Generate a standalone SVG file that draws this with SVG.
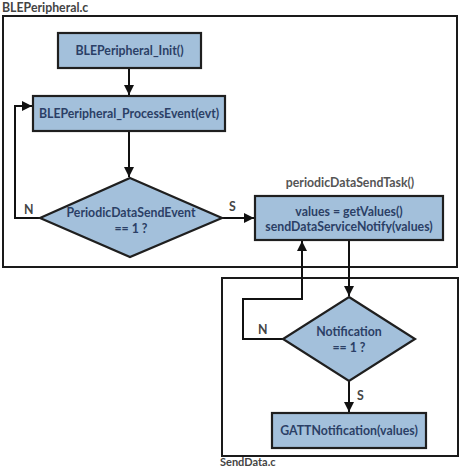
<svg xmlns="http://www.w3.org/2000/svg" width="463" height="467" viewBox="0 0 463 467">
<style>
.frame{fill:none;stroke:#1a1a1a;stroke-width:2}
.node{fill:#a3c0db;stroke:#1f1f1f;stroke-width:2.2}
.t{font-family:Lato,"Open Sans",sans-serif;font-weight:bold;font-size:12.3px;fill:#2b3f66;text-anchor:middle}
.lbl{font-family:Lato,"Open Sans",sans-serif;font-weight:bold;font-size:12.3px;fill:#444}
.c{fill:none;stroke:#111;stroke-width:2}
</style>
<defs>
<marker id="ah" viewBox="0 0 10 10" refX="10" refY="5" markerWidth="5" markerHeight="5" orient="auto" markerUnits="strokeWidth">
<path d="M0,0 L10,5 L0,10 z" fill="#111"/>
</marker>
</defs>
<rect width="463" height="467" fill="#ffffff"/>
<g id="frame-ble">
<rect class="frame" x="3" y="16" width="454" height="251"/>
<text class="lbl" x="2" y="12">BLEPeripheral.c</text>
</g>
<g id="frame-senddata">
<rect class="frame" x="222" y="278" width="236" height="178"/>
<text class="lbl" x="220" y="466" style="font-size:11px">SendData.c</text>
</g>
<g id="connectors">
<line class="c" x1="129" y1="68" x2="129" y2="95" marker-end="url(#ah)"/>
<line class="c" x1="129" y1="131" x2="129" y2="177" marker-end="url(#ah)"/>
<polyline class="c" points="40,218 15,218 15,106 32,106" marker-end="url(#ah)"/>
<line class="c" x1="222" y1="218" x2="254" y2="218" marker-end="url(#ah)"/>
<line class="c" x1="349" y1="240" x2="349" y2="296" marker-end="url(#ah)"/>
<polyline class="c" points="283,339 243,339 243,299 302,299 302,241" marker-end="url(#ah)"/>
<line class="c" x1="349" y1="381" x2="349" y2="412" marker-end="url(#ah)"/>
<text class="lbl" x="24" y="214">N</text>
<text class="lbl" x="229" y="211">S</text>
<text class="lbl" x="258" y="334">N</text>
<text class="lbl" x="357" y="400">S</text>
</g>
<g id="init">
<rect class="node" x="58" y="33" width="143" height="35"/>
<text class="t" x="129.5" y="55">BLEPeripheral_Init()</text>
</g>
<g id="process">
<rect class="node" x="33" y="96" width="192" height="35"/>
<text class="t" x="129" y="118">BLEPeripheral_ProcessEvent(evt)</text>
</g>
<g id="decision-periodic">
<polygon class="node" points="130,178 222,218 130,257 40,218"/>
<text class="t" x="131" y="217">PeriodicDataSendEvent</text>
<text class="t" x="131" y="233">== 1 ?</text>
</g>
<g id="task">
<text class="t" x="350" y="187" style="fill:#555">periodicDataSendTask()</text>
<rect class="node" x="255" y="196" width="188" height="44"/>
<text class="t" x="349" y="216">values = getValues()</text>
<text class="t" x="349" y="231">sendDataServiceNotify(values)</text>
</g>
<g id="decision-notification">
<polygon class="node" points="349,297 415,339 349,381 283,339"/>
<text class="t" x="349" y="336">Notification</text>
<text class="t" x="349" y="352">== 1 ?</text>
</g>
<g id="gatt">
<rect class="node" x="272" y="413" width="154" height="35"/>
<text class="t" x="349" y="435">GATTNotification(values)</text>
</g>
</svg>
